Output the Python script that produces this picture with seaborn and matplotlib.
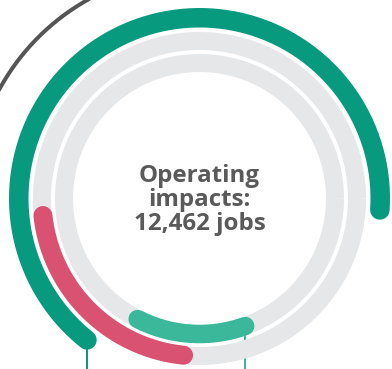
import numpy as np
import pandas as pd
import matplotlib
matplotlib.use("Agg")
import matplotlib.pyplot as plt
import seaborn as sns

# ---- data ----
categories = ["Direct", "Indirect", "Induced"]
jobs = [8140, 2700, 1622]
total_jobs = 12462
center_label = ["Operating", "impacts:", "12,462 jobs"]

# ---- layout / style ----
end_angles = [231.5, 264.2, 289.7]       # degrees, where each arc ends (label anchor)
radii = [180.75, 157.5, 135.5]          # pixel units
arc_colors = ["#079a7e", "#d95272", "#3bb89a"]
arc_widths_px = [19.5, 19.0, 18.5]
track_radii = [157.5, 135.5]
track_width_px = 18.0
track_color = "#e6e7e9"
connector = [True, False, True]

W, H = 392, 369
cx, cy = 199.5, 198.5
R = 240.0
px2pt = 72 / 100

sns.set_theme(style="white")
plt.rcParams["font.family"] = ["Open Sans", "DejaVu Sans"]

fig = plt.figure(figsize=(W / 100, H / 100), dpi=100)
fig.patch.set_facecolor("white")
rect = [(cx - R) / W, 1 - (cy + R) / H, 2 * R / W, 2 * R / H]

ax = fig.add_axes(rect, projection="polar")
ax.set_theta_zero_location("E")
ax.set_theta_direction(1)
ax.set_ylim(0, R)
ax.set_axis_off()

# gray tracks
full = np.linspace(0, 2 * np.pi, 721)
for tr in track_radii:
    df = pd.DataFrame({"theta": full, "r": np.full_like(full, tr)})
    sns.lineplot(data=df, x="theta", y="r", ax=ax, color=track_color,
                 linewidth=track_width_px * px2pt, sort=False, estimator=None,
                 solid_capstyle="butt", zorder=1)

# dark outer arc (decorative)
th = np.deg2rad(np.linspace(100, 175, 200))
sns.lineplot(x=th, y=np.full_like(th, 228.0), ax=ax, color="#555555",
             linewidth=4 * px2pt, sort=False, estimator=None, zorder=1)

# value arcs
ax2 = fig.add_axes(rect)
ax2.set_xlim(-R, R)
ax2.set_ylim(-R, R)
ax2.set_axis_off()
ax2.patch.set_alpha(0)

for cat, v, e, r, c, w, con in zip(categories, jobs, end_angles, radii,
                                    arc_colors, arc_widths_px, connector):
    span = 360.0 * v / total_jobs
    th = np.deg2rad(np.linspace(e - span, e, 300))
    sns.lineplot(x=th, y=np.full_like(th, r), ax=ax, color=c,
                 linewidth=w * px2pt, sort=False, estimator=None,
                 solid_capstyle="round", zorder=3)
    if con:
        x0 = r * np.cos(np.deg2rad(e))
        y0 = r * np.sin(np.deg2rad(e))
        ax2.plot([x0, x0], [y0, -R], color=c, linewidth=2 * px2pt, zorder=0)

ax.set_zorder(2)
ax2.set_zorder(1)

ax.text(0, -1.5, "\n".join(center_label), transform=ax2.transData,
        ha="center", va="center", fontsize=17.4, fontweight="bold",
        color="#5a5a5a", linespacing=1.0, zorder=5)

fig.savefig("out.png", dpi=100, facecolor="white")
